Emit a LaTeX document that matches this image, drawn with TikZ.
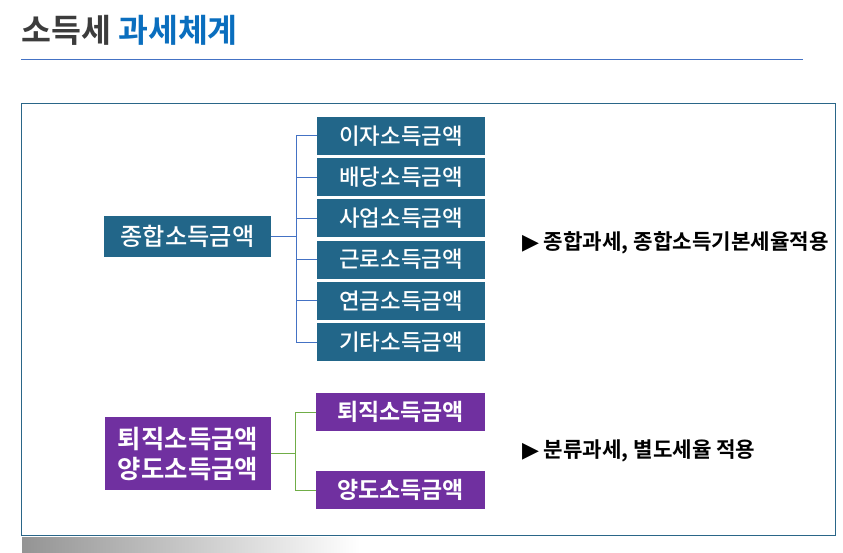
\documentclass[tikz,border=0pt]{standalone}
\usepackage{fontspec}
\newfontfamily\kr{Noto Sans CJK KR Medium}
\newfontfamily\krb{Noto Sans CJK KR Bold}
\newfontfamily\dv{DejaVu Sans}
\definecolor{titlegray}{HTML}{3C3C3C}
\definecolor{titleblue}{HTML}{0A6EBE}
\definecolor{rulecol}{HTML}{4472C4}
\definecolor{framecol}{HTML}{2A6688}
\definecolor{teal}{HTML}{226689}
\definecolor{purp}{HTML}{7030A0}
\definecolor{lineblue}{HTML}{4472C4}
\definecolor{linegreen}{HTML}{70AD47}
\tikzset{
  tealbox/.style={fill=teal, text=white, inner sep=0pt, align=center, font=\kr\fontsize{22.4}{26}\selectfont},
  purpbox/.style={fill=purp, text=white, inner sep=0pt, align=center, font=\krb\fontsize{23}{26}\selectfont},
  bline/.style={draw=lineblue, line width=1pt},
  gline/.style={draw=linegreen, line width=1pt},
  note/.style={anchor=west, inner sep=0pt, font=\krb\fontsize{21.2}{24}\selectfont, text=black},
}
\begin{document}
\begin{tikzpicture}[x=1pt,y=-1pt]
\useasboundingbox (0,0) rectangle (843,553);
% title
\node[anchor=west, inner sep=0pt, font=\krb\fontsize{32.5}{36}\selectfont] (title) at (21,30) {\textcolor{titlegray}{소득세} \textcolor{titleblue}{과세체계}};
\draw[rulecol, line width=1pt] (21,60) -- (803,60);
% shadow
\shade[left color=black!42, right color=white] (22,537) rectangle (360,553);
% frame
\draw[framecol, line width=1pt] (21,104) rectangle (835,535);
% main boxes
\node[tealbox, minimum width=167pt, minimum height=41pt, font=\kr\fontsize{24.2}{28}\selectfont] (m1) at (187.5,236.5) {종합소득금액};
\node[tealbox, minimum width=168pt, minimum height=38pt] (s1) at (401,136) {이자소득금액};
\node[tealbox, minimum width=168pt, minimum height=38pt] (s2) at (401,177.2) {배당소득금액};
\node[tealbox, minimum width=168pt, minimum height=38pt] (s3) at (401,218.4) {사업소득금액};
\node[tealbox, minimum width=168pt, minimum height=38pt] (s4) at (401,259.6) {근로소득금액};
\node[tealbox, minimum width=168pt, minimum height=38pt] (s5) at (401,300.8) {연금소득금액};
\node[tealbox, minimum width=168pt, minimum height=38pt] (s6) at (401,342) {기타소득금액};
\coordinate (j1) at (296,0);
\draw[bline] (m1.east) -- (m1.east -| j1);
\draw[bline] (s1.west) -- (s1.west -| j1) -- (s6.west -| j1) -- (s6.west);
\foreach \n in {s2,s3,s4,s5} \draw[bline] (\n.west) -- (\n.west -| j1);
% purple
\node[purpbox, minimum width=166pt, minimum height=73pt, font=\krb\fontsize{25.4}{30}\selectfont] (m2) at (188,453.5) {퇴직소득금액\\양도소득금액};
\node[purpbox, minimum width=169pt, minimum height=38pt] (p1) at (400.5,412) {퇴직소득금액};
\node[purpbox, minimum width=169pt, minimum height=38pt] (p2) at (400.5,490) {양도소득금액};
\coordinate (j2) at (295,0);
\draw[gline] (m2.east) -- (m2.east -| j2);
\draw[gline] (p1.west) -- (p1.west -| j2) -- (p2.west -| j2) -- (p2.west);
% notes
\node[note] (t1) at (522,243) {{\dv\fontsize{22}{24}\selectfont ▶} 종합과세, 종합소득기본세율적용};
\node[note] (t2) at (522,451) {{\dv\fontsize{22}{24}\selectfont ▶} 분류과세, 별도세율 적용};
\end{tikzpicture}
\end{document}
